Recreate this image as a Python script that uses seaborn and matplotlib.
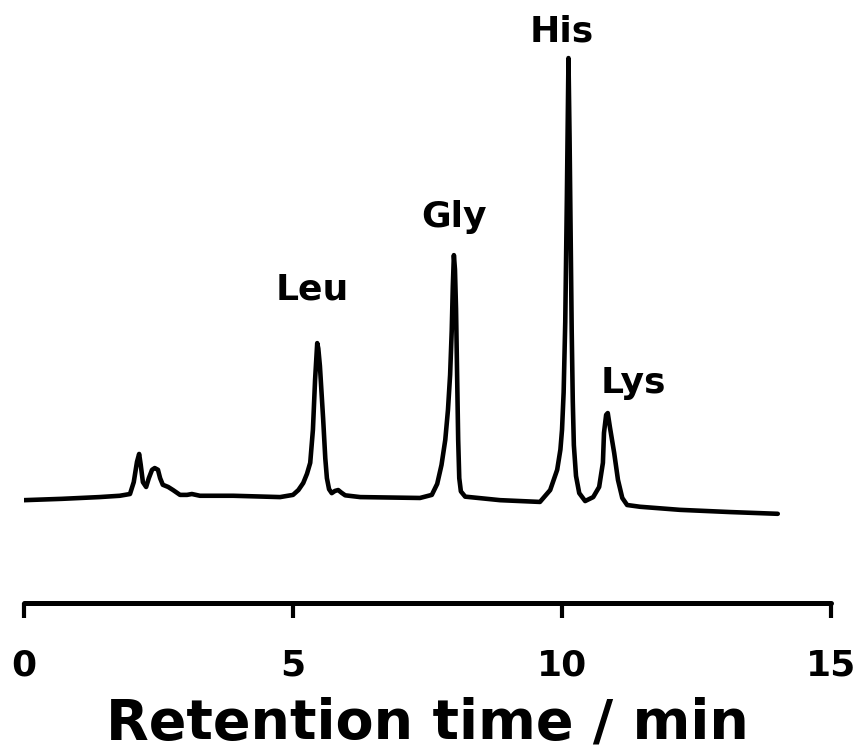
import matplotlib
matplotlib.use("Agg")
import matplotlib.pyplot as plt
import seaborn as sns
import pandas as pd

# Retention time (min) and detector signal (arbitrary units)
time_min = [0.00, 0.70, 1.40, 1.78, 1.97, 2.04, 2.10, 2.14, 2.17, 2.21, 2.27, 2.32, 2.38,
            2.43, 2.49, 2.53, 2.58, 2.68, 2.77, 2.90, 3.03, 3.12, 3.27, 3.89, 4.76,
            5.00, 5.10, 5.19, 5.26, 5.32, 5.37, 5.41, 5.45, 5.47, 5.50, 5.53, 5.56,
            5.60, 5.63, 5.67, 5.72, 5.78, 5.84, 5.90, 5.97, 6.25, 7.36, 7.58, 7.68,
            7.76, 7.83, 7.88, 7.92, 7.95, 7.97, 7.99, 8.01, 8.03, 8.05, 8.07, 8.09,
            8.12, 8.20, 8.85, 9.59, 9.78, 9.91, 9.97, 10.00, 10.03, 10.06, 10.09,
            10.12, 10.14, 10.16, 10.18, 10.20, 10.22, 10.26, 10.32, 10.43, 10.58,
            10.69, 10.76, 10.78, 10.82, 10.85, 10.89, 10.97, 11.04, 11.12, 11.21,
            11.45, 12.19, 13.12, 14.01]
signal = [-0.5, -0.2, 0.2, 0.5, 0.9, 3.6, 8.2, 10.0, 7.5, 3.6, 2.5, 4.5, 6.4,
          6.8, 6.4, 4.5, 3.0, 2.5, 1.8, 0.7, 0.7, 0.9, 0.5, 0.5, 0.2,
          0.7, 1.8, 3.4, 5.5, 8.0, 15.5, 26.8, 35.2, 34.0, 30.0, 24.0, 18.0,
          9.0, 4.5, 2.0, 1.1, 1.6, 1.8, 1.2, 0.6, 0.2, 0.0, 0.7, 3.2,
          7.5, 13.2, 20.0, 28.0, 38.0, 48.0, 55.2, 52.0, 43.0, 28.0, 13.2, 4.5,
          1.5, 0.3, -0.5, -0.9, 1.8, 6.4, 11.0, 15.5, 24.0, 40.0, 68.0,
          100.0, 82.0, 60.0, 38.0, 22.0, 12.0, 5.0, 1.1, -0.7, 0.2,
          2.5, 8.0, 14.8, 18.9, 19.3, 16.1, 10.2, 4.1, 0.0, -1.6,
          -2.0, -2.7, -3.2, -3.6]

peak_names = ["Leu", "Gly", "His", "Lys"]
peak_label_x = [5.35, 8.0, 9.99, 11.33]
peak_label_y = [47.5, 63.8, 106.1, 26.1]

xticks = [0, 5, 10, 15]

df = pd.DataFrame({"t": time_min, "s": signal})

sns.set_style("white")
plt.rcParams["font.family"] = ["DejaVu Sans"]
plt.rcParams["text.color"] = "black"
plt.rcParams["axes.labelcolor"] = "black"
plt.rcParams["xtick.color"] = "black"

fig = plt.figure(figsize=(8.57, 7.52), dpi=100)
ax = fig.add_axes([0.028, 0.198, 0.9417, 0.802])

sns.lineplot(data=df, x="t", y="s", ax=ax, sort=False, color="black",
             linewidth=3.3, estimator=None)
for l in ax.get_lines():
    l.set_solid_joinstyle("round")
    l.set_solid_capstyle("round")

for name, x, y in zip(peak_names, peak_label_x, peak_label_y):
    ax.text(x, y, name, ha="center", va="center", fontsize=26,
            fontweight="bold", color="black")

ax.set_xlim(0, 15)
ax.set_ylim(-23.9, 113.2)
ax.set_xticks(xticks)
ax.set_xticklabels([str(v) for v in xticks], fontsize=26, fontweight="bold",
                   color="black")
ax.set_yticks([])
ax.set_ylabel("")
ax.set_xlabel("Retention time / min", fontsize=40, fontweight="bold",
              labelpad=10, color="black")

for side in ["left", "right", "top"]:
    ax.spines[side].set_visible(False)
ax.spines["bottom"].set_linewidth(3.6)
ax.spines["bottom"].set_color("black")
ax.spines["bottom"].set_capstyle("round")
ax.tick_params(axis="x", direction="out", length=11, width=3, color="black",
               pad=22, bottom=True)
for t in ax.xaxis.get_major_ticks():
    t.tick1line.set_solid_capstyle("round")
ax.patch.set_alpha(0)

fig.savefig("out.png", dpi=100, facecolor="white")
